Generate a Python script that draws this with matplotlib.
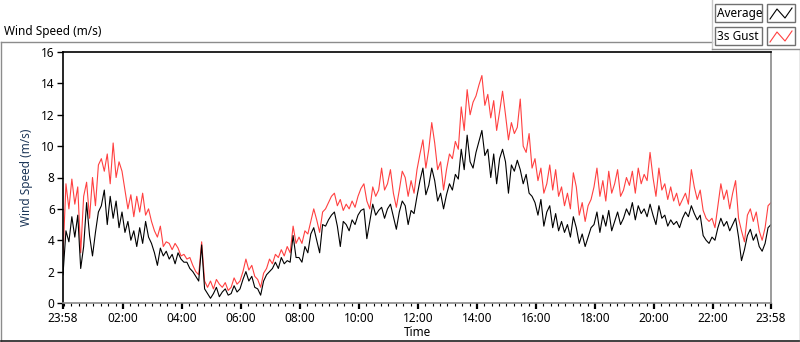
import numpy as np
import matplotlib
matplotlib.use("Agg")
import matplotlib.pyplot as plt
from matplotlib.lines import Line2D
from matplotlib.patches import Rectangle

# Datos: muestras cada 6 minutos desde las 23:58
gust = [
    3.0, 7.6, 6.0, 7.9, 6.3, 7.4, 3.2, 6.8, 7.7, 5.4,
    8.0, 6.2, 8.8, 9.2, 8.4, 9.5, 7.6, 10.2, 8.0, 9.0,
    8.4, 7.2, 6.0, 6.9, 5.5, 6.8, 5.8, 7.0, 5.6, 6.0,
    5.2, 4.6, 4.2, 4.9, 3.6, 3.9, 3.8, 3.4, 3.8, 3.5,
    3.0, 3.1, 2.8, 2.9, 2.4, 2.0, 1.8, 3.9, 1.4, 1.0,
    1.4, 0.9, 1.5, 1.2, 1.0, 1.3, 0.8, 1.0, 1.6, 1.2,
    1.4, 2.0, 2.8, 2.1, 2.4, 1.7, 1.5, 1.0, 1.9, 2.2,
    2.8, 2.5, 3.1, 2.9, 3.4, 3.0, 3.6, 3.2, 4.9, 3.8,
    4.2, 3.8, 4.6, 4.4, 5.2, 6.0, 5.3, 4.5, 5.8, 6.0,
    6.4, 6.8, 7.0, 6.2, 6.6, 5.9, 6.3, 6.0, 6.5, 6.1,
    6.8, 7.3, 7.6, 6.5, 6.0, 7.4, 6.8, 7.2, 8.6, 7.2,
    7.6, 8.5, 7.0, 6.1, 7.2, 8.4, 8.0, 6.8, 7.8, 7.0,
    8.5, 9.5, 10.4, 8.6, 9.8, 11.5, 10.2, 8.5, 9.0, 7.2,
    8.5, 9.5, 9.2, 10.3, 9.8, 12.5, 11.0, 13.6, 12.0, 12.8,
    13.2, 13.9, 14.5, 12.6, 13.3, 11.8, 12.9, 11.0, 12.2, 13.5,
    12.0, 10.4, 11.5, 10.8, 11.2, 13.0, 10.0, 9.6, 10.8, 8.6,
    9.2, 7.8, 8.6, 7.0, 7.6, 8.8, 7.2, 8.5, 6.8, 7.4,
    6.2, 7.0, 6.0, 8.3, 7.4, 5.6, 6.4, 5.2, 6.2, 6.6,
    7.4, 8.6, 6.8, 7.8, 6.5, 8.4, 7.0, 7.6, 8.5, 6.8,
    7.2, 8.0, 7.5, 8.4, 7.0, 8.6, 7.6, 8.2, 7.8, 9.6,
    8.0, 6.8, 8.6, 7.2, 7.6, 6.6, 7.4, 6.5, 7.0, 6.2,
    6.6, 7.0, 6.3, 8.5, 7.4, 6.6, 7.2, 5.9, 5.4, 5.2,
    5.4, 4.8, 6.2, 7.6, 6.6, 7.2, 6.0, 7.0, 7.8, 5.4,
    4.6, 3.9, 5.6, 6.0, 5.2, 5.8, 4.6, 4.0, 4.8, 6.2, 6.4,
]
average = [
    1.8, 4.6, 3.9, 5.5, 4.2, 5.6, 2.2, 3.6, 6.4, 4.3,
    3.0, 4.5, 5.8, 6.2, 7.2, 5.0, 6.8, 5.4, 6.5, 4.8,
    5.8, 4.5, 5.2, 4.0, 4.6, 3.6, 4.8, 3.8, 5.2, 4.2,
    3.8, 3.2, 2.4, 3.5, 3.0, 3.3, 2.8, 3.1, 2.5, 3.2,
    2.8, 2.6, 2.6, 2.2, 2.0, 1.7, 1.4, 3.7, 0.9, 0.6,
    0.3, 0.6, 1.0, 0.4, 0.7, 0.9, 0.5, 0.6, 1.1, 0.7,
    0.9, 1.5, 2.0, 1.4, 1.7, 1.0, 0.9, 0.5, 1.4, 1.8,
    2.0, 2.2, 2.6, 2.2, 2.9, 2.5, 2.7, 2.6, 4.3, 2.9,
    2.9, 2.6, 3.6, 3.2, 4.4, 4.8, 4.0, 3.2, 5.0, 4.9,
    5.3, 5.6, 5.8, 4.9, 3.6, 5.2, 5.0, 4.6, 5.3, 5.0,
    5.6, 5.9, 6.0, 4.1, 5.2, 6.3, 5.6, 5.9, 6.1, 5.4,
    6.0, 6.3, 5.5, 4.7, 5.8, 6.5, 6.2, 5.0, 5.9, 5.7,
    6.8, 7.8, 8.6, 6.9, 7.5, 8.6, 7.8, 6.5, 7.0, 6.0,
    6.9, 7.6, 7.2, 8.2, 7.9, 9.8, 8.5, 10.7, 9.0, 8.6,
    9.6, 10.3, 11.0, 9.4, 9.8, 8.0, 9.5, 7.6, 9.2, 9.8,
    9.0, 7.0, 8.8, 8.4, 9.1, 8.5, 7.6, 8.2, 7.0, 6.8,
    6.4, 5.6, 6.6, 4.9, 5.8, 6.2, 4.8, 5.7, 4.6, 5.2,
    4.5, 5.0, 4.2, 5.5, 4.8, 3.8, 4.4, 3.6, 4.2, 4.8,
    5.0, 5.8, 4.5, 5.6, 4.9, 5.9, 4.6, 5.2, 5.8, 5.0,
    5.4, 6.0, 5.6, 6.4, 5.3, 6.2, 5.7, 6.0, 5.5, 6.3,
    5.6, 5.0, 6.2, 5.4, 5.6, 4.9, 5.3, 5.0, 5.2, 4.8,
    5.4, 5.8, 5.5, 6.2, 5.7, 5.3, 5.6, 4.3, 4.0, 3.8,
    4.2, 4.0, 4.8, 5.4, 4.9, 5.2, 4.6, 5.0, 5.4, 4.2,
    2.7, 3.4, 4.3, 4.7, 4.0, 4.4, 3.6, 3.3, 3.8, 4.8, 5.0,
]
time_labels = ["23:58", "02:00", "04:00", "06:00", "08:00", "10:00", "12:00",
               "14:00", "16:00", "18:00", "20:00", "22:00", "23:58"]
y_ticks = [0, 2, 4, 6, 8, 10, 12, 14, 16]

# Eje de tiempo en horas desde las 23:58
t = np.arange(len(gust)) * 0.1
major = [0] + [2 + 2 / 60 + 2 * k for k in range(11)] + [24]

W, H = 800, 342
plt.rcParams['font.family'] = ['Noto Sans', 'DejaVu Sans']
fig = plt.figure(figsize=(W / 100, H / 100), dpi=100)
fig.patch.set_facecolor('white')

def px(x, y):
    return (x / W, 1 - y / H)

ax = fig.add_axes([63 / W, 1 - 303 / H, (771 - 63) / W, (303 - 52) / H])
ax.plot(t, gust, color='#ff4040', linewidth=0.8)
ax.plot(t, average, color='black', linewidth=0.8)

ax.set_xlim(0, 24)
ax.set_ylim(0, 16)
ax.set_yticks(y_ticks)
ax.set_xticks(major)
ax.set_xticklabels(time_labels)
ax.set_xticks(np.arange(1 / 30, 24, 0.25), minor=True)
ax.tick_params(axis='both', which='major', labelsize=8.5, colors='black',
               length=4, width=1, pad=2)
ax.tick_params(axis='x', which='major', width=1.6, length=4.5)
ax.tick_params(axis='x', which='minor', length=2.5, width=0.8, color='black')

for side in ['left', 'top']:
    ax.spines[side].set_color('black')
for side in ['right', 'bottom']:
    ax.spines[side].set_color('#8a8a8a')
for s in ax.spines.values():
    s.set_linewidth(1.2)

ax.set_ylabel("Wind Speed (m/s)", fontsize=8.5, color='#1c3658', labelpad=6)
ax.set_xlabel("Time", fontsize=8.5, color='black', labelpad=1)

# Marco exterior y título
frame_gray = '#8c8c8c'
fig.add_artist(Line2D(*zip(px(0.5, 42), px(711.5, 42)), color=frame_gray, lw=1))
fig.add_artist(Line2D(*zip(px(0.5, 42), px(0.5, 341)), color=frame_gray, lw=1))
fig.add_artist(Line2D(*zip(px(0.5, 341), px(799.5, 341)), color='#202020', lw=1.2))
fig.add_artist(Line2D(*zip(px(711.5, 0), px(711.5, 49)), color='#c8c8c8', lw=1))
fig.add_artist(Line2D(*zip(px(711.5, 49), px(799.5, 49)), color=frame_gray, lw=1))
fig.add_artist(Line2D(*zip(px(799.5, 49), px(799.5, 341)), color=frame_gray, lw=1))
fig.text(*px(4, 32), "Wind Speed (m/s)", fontsize=8.5, va='center', ha='left')

# Leyenda
legend_items = [("Average", 'black', 4), ("3s Gust", '#ff4040', 27)]
for name, col, top in legend_items:
    x0, y0 = px(715, top + 18)
    x1, y1 = px(762, top)
    fig.add_artist(Rectangle((x0, y0), x1 - x0, y1 - y0, transform=fig.transFigure,
                             facecolor='white', edgecolor='#707070', lw=1))
    fig.text(*px(717, top + 9.5), name, fontsize=8.5, va='center', ha='left')
    x0, y0 = px(767, top + 18)
    x1, y1 = px(795, top)
    fig.add_artist(Rectangle((x0, y0), x1 - x0, y1 - y0, transform=fig.transFigure,
                             facecolor='white', edgecolor='#707070', lw=1))
    zx = [770, 777, 785, 792]
    zy = [top + 15, top + 5, top + 14, top + 4]
    pts = [px(a, b) for a, b in zip(zx, zy)]
    fig.add_artist(Line2D([p[0] for p in pts], [p[1] for p in pts], color=col, lw=0.8))

fig.savefig("out.png", dpi=100)
